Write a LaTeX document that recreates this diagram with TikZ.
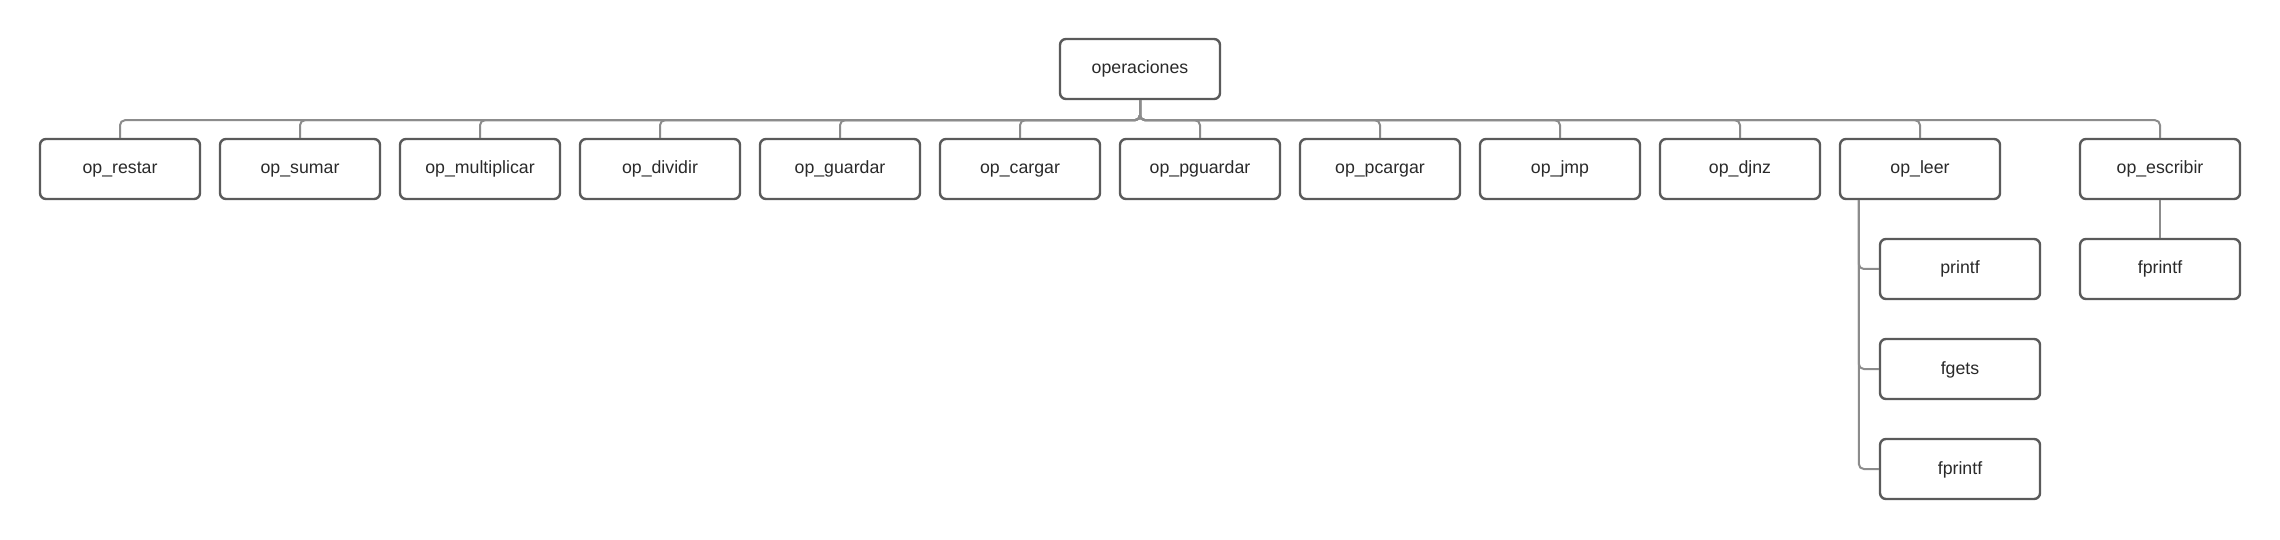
\documentclass[tikz,border=0pt]{standalone}
\usepackage{fontspec}
\setmainfont{Liberation Sans}
\usetikzlibrary{calc}
\definecolor{boxline}{HTML}{5A5A5A}
\definecolor{connline}{HTML}{8C8C8C}
\definecolor{txt}{HTML}{2A2A2A}
\tikzset{
  box/.style={draw=boxline, line width=2.4bp, rounded corners=6bp, fill=white,
    minimum width=160bp, minimum height=60bp, inner sep=0pt, text=txt,
    text height=13.5bp, text depth=3.5bp,
    font=\fontsize{17.8}{21}\selectfont},
  conn/.style={draw=connline, line width=2bp, rounded corners=5bp}
}
\begin{document}
\begin{tikzpicture}[x=1bp,y=-1bp]
\useasboundingbox[fill=white] (0,0) rectangle (2280,540);
\node[box] (root) at (1140,69) {operaciones};
\foreach \n/\t/\x in {c1/op\_restar/120, c2/op\_sumar/300, c3/op\_multiplicar/480,
  c4/op\_dividir/660, c5/op\_guardar/840, c6/op\_cargar/1020, c7/op\_pguardar/1200,
  c8/op\_pcargar/1380, c9/op\_jmp/1560, c10/op\_djnz/1740, leer/op\_leer/1920,
  escribir/op\_escribir/2160}{
  \node[box] (\n) at (\x,169) {\t};
}
\node[box] (printf) at (1960,269) {printf};
\node[box] (fgets) at (1960,369) {fgets};
\node[box] (fprintfa) at (1960,469) {fprintf};
\node[box] (fprintfb) at (2160,269) {fprintf};
\foreach \n in {c1,c2,c3,c4,c5,c6,c7,c8,c9,c10,leer,escribir}{
  \draw[conn] (root.south) -- ++(0,20) -| (\n.north);
}
\coordinate (lstart) at ($(leer.south west)+(20,0)$);
\foreach \n in {printf,fgets,fprintfa}{
  \draw[conn] (lstart) |- (\n.west);
}
\draw[conn] (escribir.south) -- (fprintfb.north);
\end{tikzpicture}
\end{document}
